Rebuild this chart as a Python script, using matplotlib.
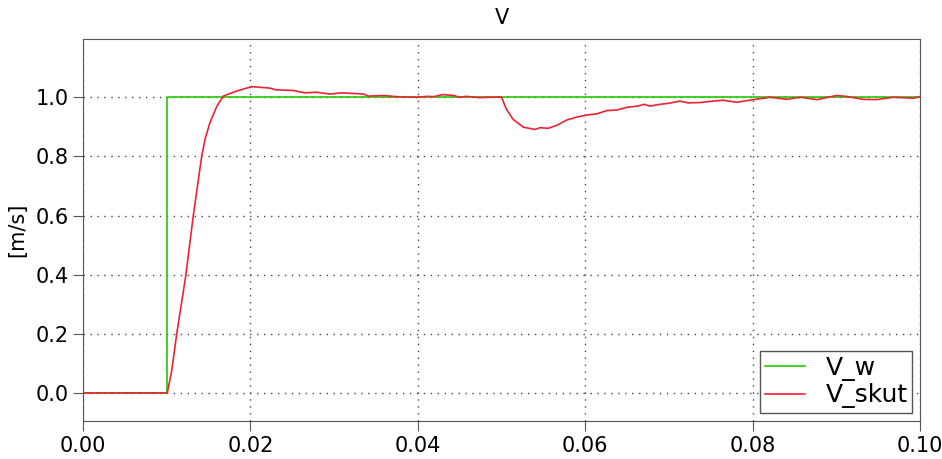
import numpy as np
import matplotlib
matplotlib.use('Agg')
import matplotlib.pyplot as plt

# set point (step at t = 0.01)
t_w = [0.0, 0.01, 0.01, 0.1]
v_w = [0.0, 0.0, 1.0, 1.0]

t_skut = [0.0, 0.01007, 0.0106, 0.0112, 0.0123, 0.01318, 0.01418, 0.0146, 0.01517, 0.0160,
          0.01677, 0.01836,
          0.02015, 0.0223, 0.0231, 0.0251, 0.0265, 0.0279, 0.0295, 0.0309, 0.0335,
          0.0341, 0.0359, 0.0375, 0.0399, 0.0411, 0.0419, 0.0430, 0.0443, 0.0450,
          0.0458, 0.0474, 0.0500, 0.0506, 0.0514, 0.0526, 0.0540, 0.0546, 0.0556,
          0.0566, 0.0578, 0.0590, 0.0602, 0.0614, 0.0626, 0.0638, 0.0650, 0.0662,
          0.0671, 0.0677, 0.0689, 0.0701, 0.0713, 0.0723, 0.0737, 0.0749, 0.0765,
          0.0781, 0.0801, 0.0821, 0.0841, 0.0857, 0.0877, 0.0900, 0.0912, 0.0932,
          0.0948, 0.0968, 0.0992, 0.1]
v_skut = [0.0, 0.0, 0.075, 0.2, 0.40, 0.60, 0.80, 0.86, 0.914, 0.97,
          1.004, 1.021,
          1.036, 1.031, 1.025, 1.023, 1.015, 1.017, 1.011, 1.015, 1.011,
          1.004, 1.006, 1.002, 1.0, 1.003, 1.002, 1.009, 1.006, 1.0,
          1.003, 0.999, 1.001, 0.959, 0.925, 0.899, 0.891, 0.897, 0.895,
          0.905, 0.923, 0.933, 0.940, 0.944, 0.955, 0.957, 0.966, 0.970,
          0.976, 0.970, 0.976, 0.980, 0.987, 0.981, 0.982, 0.986, 0.990,
          0.983, 0.992, 1.0, 0.993, 1.0, 0.992, 1.006, 1.003, 0.993,
          0.992, 1.0, 0.997, 1.002]

x_ticks = [0.0, 0.02, 0.04, 0.06, 0.08, 0.1]
y_ticks = [0.0, 0.2, 0.4, 0.6, 0.8, 1.0]

fig = plt.figure(figsize=(9.42, 4.59), dpi=100)
ax = fig.add_axes([0.0881, 0.0828, 0.8885, 0.8322])

ax.plot(t_w, v_w, color='#22cc00', lw=1.2, label='V_w')
ax.plot(t_skut, v_skut, color='#ee2233', lw=1.2, label='V_skut')

ax.set_xlim(0, 0.1)
ax.set_ylim(-0.095, 1.197)
ax.set_xticks(x_ticks)
ax.set_xticklabels([f'{x:.2f}' for x in x_ticks])
ax.set_yticks(y_ticks)
ax.set_yticklabels([f'{y:.1f}' for y in y_ticks])
ax.tick_params(labelsize=15, direction='out', length=7.5, pad=3, color='#555555')
for s in ax.spines.values():
    s.set_color('#555555')

ax.grid(True, linestyle=(0, (1, 4)), color='#444444', lw=1)
ax.set_title('V', fontsize=15, pad=11)
ax.set_ylabel('[m/s]', fontsize=15, labelpad=6)

leg = ax.legend(loc='lower right', fontsize=18, fancybox=False, framealpha=1,
                edgecolor='#555555', handlelength=1.6, borderpad=0.2,
                labelspacing=0.1, handletextpad=0.8, borderaxespad=0.3)
leg.get_frame().set_linewidth(1.0)

fig.savefig('out.png', dpi=100)
